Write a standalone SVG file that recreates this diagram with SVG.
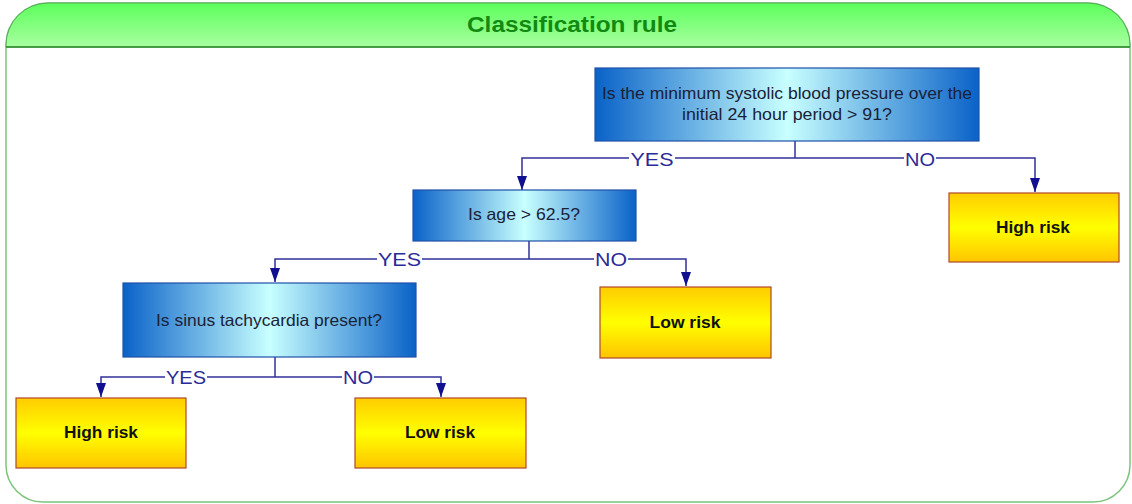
<svg xmlns="http://www.w3.org/2000/svg" width="1132" height="504" viewBox="0 0 1132 504">
  <defs>
    <linearGradient id="hdr" x1="0" y1="0" x2="0" y2="1">
      <stop offset="0" stop-color="#5cff5c"/>
      <stop offset="1" stop-color="#a8ffa0"/>
    </linearGradient>
    <linearGradient id="q" x1="0" y1="0" x2="1" y2="0">
      <stop offset="0" stop-color="#0a62c8"/>
      <stop offset="0.5" stop-color="#c8ffff"/>
      <stop offset="1" stop-color="#0a62c8"/>
    </linearGradient>
    <linearGradient id="r" x1="0" y1="0" x2="0" y2="1">
      <stop offset="0" stop-color="#ffcc00"/>
      <stop offset="0.5" stop-color="#ffff00"/>
      <stop offset="1" stop-color="#ffc400"/>
    </linearGradient>
    <marker id="arr" viewBox="0 0 14 10" refX="14" refY="5" markerWidth="14" markerHeight="10" markerUnits="userSpaceOnUse" orient="auto">
      <path d="M0,0 L14,5 L0,10 Z" fill="#101090"/>
    </marker>
    <style>
      .q rect { fill: url(#q); stroke: #2050a8; stroke-width: 1.2; }
      .q text { font-family: "Liberation Sans", Arial, sans-serif; font-size: 16.5px; fill: #1a2238; text-anchor: middle; }
      .r rect { fill: url(#r); stroke: #b04828; stroke-width: 1.2; }
      .r text { font-family: "Liberation Sans", Arial, sans-serif; font-size: 16.5px; font-weight: bold; fill: #111; text-anchor: middle; }
      .edges path { fill: none; stroke: #303098; stroke-width: 1.5; }
      .edges path.arrow { marker-end: url(#arr); }
      .edges rect { fill: #fff; }
      .lbl { font-family: "Liberation Sans", Arial, sans-serif; font-size: 18px; fill: #2a2a98; text-anchor: middle; }
    </style>
  </defs>

  <!-- frame -->
  <path d="M6,45 A42,42 0 0 1 48,3 H1088 A42,42 0 0 1 1130,45 V465 A37,37 0 0 1 1093,502 H43 A37,37 0 0 1 6,465 Z" fill="#fff" stroke="#7cc47c" stroke-width="1.5"/>
  <path d="M6,47 V45 A42,42 0 0 1 48,3 H1088 A42,42 0 0 1 1130,45 V47 Z" fill="url(#hdr)" stroke="#5aa85a" stroke-width="1"/>
  <line x1="6" y1="47" x2="1130" y2="47" stroke="#2a8a2a" stroke-width="1.5"/>
  <text x="572" y="32" font-family="'Liberation Sans', Arial, sans-serif" font-size="22" font-weight="bold" fill="#128a12" text-anchor="middle" textLength="210" lengthAdjust="spacingAndGlyphs">Classification rule</text>

  <!-- connectors -->
  <g class="edges">
    <path d="M795,141 V158"/>
    <path class="arrow" d="M795,158 H522 V190"/>
    <path class="arrow" d="M795,158 H1035 V192"/>
    <path d="M529,241 V259"/>
    <path class="arrow" d="M529,259 H275 V282"/>
    <path class="arrow" d="M529,259 H686 V286"/>
    <path d="M275,357 V377"/>
    <path class="arrow" d="M275,377 H101 V397"/>
    <path class="arrow" d="M275,377 H441 V397"/>
    <!-- label backings that break the lines -->
    <rect x="629" y="151" width="46" height="14"/>
    <rect x="904" y="151" width="32" height="14"/>
    <rect x="377" y="252" width="45" height="14"/>
    <rect x="594" y="252" width="34" height="14"/>
    <rect x="165" y="370" width="42" height="14"/>
    <rect x="342" y="370" width="32" height="14"/>
    <text class="lbl" x="652" y="165.5" textLength="43" lengthAdjust="spacingAndGlyphs">YES</text>
    <text class="lbl" x="920" y="165.5" textLength="30" lengthAdjust="spacingAndGlyphs">NO</text>
    <text class="lbl" x="399.5" y="266" textLength="43" lengthAdjust="spacingAndGlyphs">YES</text>
    <text class="lbl" x="611" y="266" textLength="32" lengthAdjust="spacingAndGlyphs">NO</text>
    <text class="lbl" x="186" y="383.5" textLength="40" lengthAdjust="spacingAndGlyphs">YES</text>
    <text class="lbl" x="358" y="383.5" textLength="30" lengthAdjust="spacingAndGlyphs">NO</text>
  </g>

  <!-- nodes -->
  <g id="q-bp" class="q">
    <rect x="595" y="68" width="384" height="73"/>
    <text x="787" y="99" textLength="370" lengthAdjust="spacingAndGlyphs">Is the minimum systolic blood pressure over the</text>
    <text x="787" y="120" textLength="210" lengthAdjust="spacingAndGlyphs">initial 24 hour period &gt; 91?</text>
  </g>
  <g id="r-high-1" class="r">
    <rect x="949" y="193" width="170" height="69"/>
    <text x="1033" y="233" textLength="74" lengthAdjust="spacingAndGlyphs">High risk</text>
  </g>
  <g id="q-age" class="q">
    <rect x="413" y="190" width="223" height="51"/>
    <text x="524" y="220" textLength="112" lengthAdjust="spacingAndGlyphs">Is age &gt; 62.5?</text>
  </g>
  <g id="r-low-1" class="r">
    <rect x="600" y="287" width="171" height="71"/>
    <text x="685" y="328" textLength="71" lengthAdjust="spacingAndGlyphs">Low risk</text>
  </g>
  <g id="q-sinus" class="q">
    <rect x="123" y="283" width="293" height="74"/>
    <text x="269" y="326" textLength="226" lengthAdjust="spacingAndGlyphs">Is sinus tachycardia present?</text>
  </g>
  <g id="r-high-2" class="r">
    <rect x="16" y="398" width="170" height="70"/>
    <text x="101" y="438" textLength="74" lengthAdjust="spacingAndGlyphs">High risk</text>
  </g>
  <g id="r-low-2" class="r">
    <rect x="355" y="398" width="171" height="70"/>
    <text x="440" y="438" textLength="70" lengthAdjust="spacingAndGlyphs">Low risk</text>
  </g>
</svg>
